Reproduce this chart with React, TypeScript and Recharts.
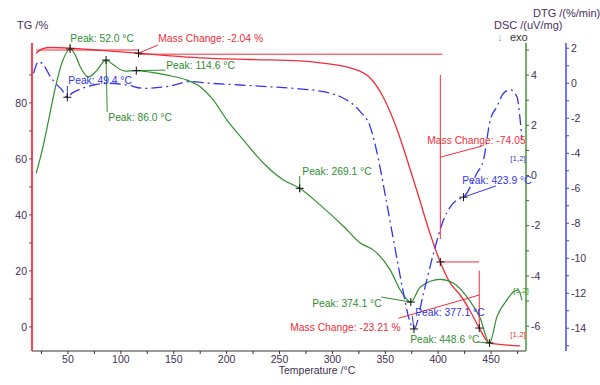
import { ComposedChart, Line, XAxis, YAxis, ReferenceLine, ReferenceDot } from 'recharts'

// TG curve (mass %)
const tgTemp = [19.8, 25.7, 33.3, 52.2, 80.5, 116.4, 146.7, 175.0, 222.3, 269.6, 288.5, 316.8, 335.7, 348.0, 361.2, 370.7, 381.1, 390.5, 401.9, 411.3, 420.8, 430.2, 438.8, 448.2, 458.6, 477.5]
const tgValue = [97.75, 99.3, 99.8, 99.6, 98.75, 97.75, 96.8, 96.1, 95.5, 95.0, 94.3, 92.5, 88.9, 82.1, 70.4, 59.6, 47.1, 35.4, 23.2, 15.7, 11.4, 5.7, -0.4, -5.7, -6.25, -6.8]

// DSC curve (uV/mg)
const dscTemp = [20.0, 25.7, 31.7, 38.0, 44.6, 52.0, 56.9, 61.6, 69.2, 76.7, 86.0, 91.9, 104.2, 114.6, 127.8, 143.6, 162.5, 175.0, 187.3, 200.3, 216.0, 234.9, 253.8, 269.1, 288.5, 312.1, 326.3, 338.9, 354.6, 364.1, 374.1, 383.1, 401.9, 414.5, 427.1, 439.7, 448.6, 455.5, 464.9, 471.2, 475.9, 479.1]
const dscValue = [0.09, 1.02, 2.21, 3.49, 4.52, 5.04, 4.8, 4.33, 3.92, 4.16, 4.6, 4.44, 4.16, 4.18, 4.12, 4.0, 3.8, 3.54, 3.01, 2.21, 1.41, 0.49, -0.18, -0.51, -1.18, -2.09, -2.69, -2.97, -3.76, -4.56, -5.04, -4.44, -4.14, -4.29, -4.83, -5.69, -6.67, -5.63, -4.96, -4.63, -4.56, -4.96]

// DTG curve (%/min)
const dtgTemp = [17.5, 22.2, 27.6, 33.3, 38.9, 44.3, 49.4, 54.1, 60.0, 74.2, 90.0, 105.8, 121.5, 143.6, 165.6, 184.5, 212.9, 238.1, 263.2, 288.5, 297.9, 310.5, 326.3, 335.7, 343.6, 350.8, 359.4, 367.2, 371.9, 377.1, 386.1, 395.6, 405.0, 417.7, 423.9, 436.6, 442.8, 449.2, 455.5, 461.7, 468.1, 474.4, 477.5, 479.1]
const dtgValue = [0.57, 1.23, 0.99, 0.38, -0.04, -0.38, -0.8, -0.55, -0.38, -0.1, 0.0, -0.1, -0.29, -0.19, 0.09, 0.0, -0.1, -0.19, -0.29, -0.45, -0.57, -0.86, -1.62, -2.48, -4.38, -6.67, -9.5, -12.0, -13.34, -14.04, -12.0, -9.71, -7.81, -6.67, -6.51, -5.14, -4.38, -2.1, -1.34, -0.57, -0.38, -0.77, -2.1, -3.24]

const xTicks = [25, 50, 75, 100, 125, 150, 175, 200, 225, 250, 275, 300, 325, 350, 375, 400, 425, 450, 475]
const tgTicks = [0, 10, 20, 30, 40, 50, 60, 70, 80, 90]
const dscTicks = [-6, -5, -4, -3, -2, -1, 0, 1, 2, 3, 4, 5]
const dtgTicks = [-15, -14, -13, -12, -11, -10, -9, -8, -7, -6, -5, -4, -3, -2, -1, 0, 1, 2]

// peak markers
const dscPeakTemp = [52.0, 86.0, 114.6, 269.1, 374.1, 448.6]
const dscPeakValue = [5.04, 4.6, 4.18, -0.51, -5.04, -6.67]
const dtgPeakTemp = [49.4, 377.1, 423.9]
const dtgPeakValue = [-0.8, -14.04, -6.51]
const tgMarkTemp = [116.7, 402, 438.8]
const tgMarkValue = [97.75, 23.2, -0.4]

const tgData = tgTemp.map((t, i) => ({ t, v: tgValue[i] }))
const dscData = dscTemp.map((t, i) => ({ t, v: dscValue[i] }))
const dtgData = dtgTemp.map((t, i) => ({ t, v: dtgValue[i] }))

const RED = '#f02d3a'
const GREEN = '#2f8f2f'
const BLUE = '#3434f0'
const TEXT = '#3f3050'
const FONT = '"Liberation Sans", Arial, sans-serif'

type Note = { text: string; t: number; v: number; axis: string; color: string; size?: number }

const notes: Note[] = [
  { text: 'Peak: 52.0 °C', t: 52.2, v: 5.32, axis: 'dsc', color: GREEN },
  { text: 'Peak: 86.0 °C', t: 88.1, v: 2.17, axis: 'dsc', color: GREEN },
  { text: 'Peak: 114.6 °C', t: 142.9, v: 4.24, axis: 'dsc', color: GREEN },
  { text: 'Peak: 269.1 °C', t: 271.5, v: 0.02, axis: 'dsc', color: GREEN },
  { text: 'Peak: 374.1 °C', t: 280.9, v: -5.24, axis: 'dsc', color: GREEN },
  { text: 'Peak: 448.6 °C', t: 373.5, v: -6.67, axis: 'dsc', color: GREEN },
  { text: '[1,2]', t: 470.9, v: -4.68, axis: 'dsc', color: GREEN, size: 8 },
  { text: 'Peak: 49.4 °C', t: 50.3, v: -0.04, axis: 'dtg', color: BLUE },
  { text: 'Peak: 377.1 °C', t: 378.3, v: -13.3, axis: 'dtg', color: BLUE },
  { text: 'Peak: 423.9 °C', t: 422.7, v: -5.75, axis: 'dtg', color: BLUE },
  { text: '[1,2]', t: 468.1, v: -4.45, axis: 'dtg', color: BLUE, size: 8 },
  { text: 'Mass Change: -2.04 %', t: 135.4, v: 101.8, axis: 'tg', color: RED },
  { text: 'Mass Change: -74.05', t: 389.6, v: 65.4, axis: 'tg', color: RED },
  { text: 'Mass Change: -23.21 %', t: 260.1, v: -1.4, axis: 'tg', color: RED },
  { text: '[1,2]', t: 468.1, v: -3.6, axis: 'tg', color: RED, size: 8 },
]

type Seg = { axis: string; color: string; a: [number, number]; b: [number, number] }

const leaders: Seg[] = [
  { axis: 'dsc', color: GREEN, a: [52.0, 5.04], b: [52.0, 5.26] },
  { axis: 'dsc', color: GREEN, a: [86.0, 4.6], b: [87.1, 2.53] },
  { axis: 'dsc', color: GREEN, a: [114.6, 4.18], b: [142, 4.2] },
  { axis: 'dsc', color: GREEN, a: [269.1, -0.02], b: [269.1, -0.66] },
  { axis: 'dsc', color: GREEN, a: [374.1, -5.04], b: [346.1, -4.84] },
  { axis: 'dsc', color: GREEN, a: [448.6, -6.67], b: [436.9, -6.63] },
  { axis: 'dtg', color: BLUE, a: [49.4, -0.8], b: [49.4, -0.15] },
  { axis: 'dtg', color: BLUE, a: [377.1, -14.04], b: [375.4, -13.3] },
  { axis: 'dtg', color: BLUE, a: [423.9, -6.51], b: [454.5, -5.87] },
  { axis: 'tg', color: RED, a: [116.7, 97.75], b: [135.3, 100.7] },
  { axis: 'tg', color: RED, a: [20, 98.9], b: [116.7, 98.9] },
  { axis: 'tg', color: RED, a: [116.7, 98.9], b: [116.7, 97.4] },
  { axis: 'tg', color: RED, a: [116.7, 97.4], b: [404, 97.4] },
  { axis: 'tg', color: RED, a: [402, 90], b: [402, 31.4] },
  { axis: 'tg', color: RED, a: [402, 60.6], b: [441.3, 64.6] },
  { axis: 'tg', color: RED, a: [402, 23.2], b: [438.8, 23.2] },
  { axis: 'tg', color: RED, a: [438.8, 20.1], b: [438.8, -0.4] },
  { axis: 'tg', color: RED, a: [362.5, 3.1], b: [438.8, 11.4] },
]

const cross = (p: any) => (
  <path d={`M${p.cx - 4},${p.cy}H${p.cx + 4}M${p.cx},${p.cy - 4}V${p.cy + 4}`} stroke="#111" strokeWidth={1} fill="none" />
)

const noteShape = (n: Note) => (p: any) => (
  <text x={p.cx} y={p.cy} fill={n.color} fontSize={n.size ?? 10.3} fontFamily={FONT}>
    {n.text}
  </text>
)

const tickStyle = { fill: TEXT, fontSize: 10.5, fontFamily: FONT }

export default function App() {
  return (
    <div style={{ position: 'absolute', left: 0, top: 0, width: 600, height: 385, background: '#fff' }}>
      <ComposedChart width={600} height={385} margin={{ top: 43, right: 0, left: 0, bottom: 0 }}>
        <XAxis
          type="number"
          dataKey="t"
          domain={[16, 483]}
          allowDataOverflow
          ticks={xTicks}
          tickFormatter={(v) => (v % 50 === 0 ? String(v) : '')}
          tick={tickStyle}
          tickSize={3}
          height={34}
          stroke="#333"
          label={{ value: 'Temperature /°C', position: 'insideBottom', offset: 11, dx: 38, fill: TEXT, fontSize: 10.5, fontFamily: FONT }}
        />
        <YAxis
          yAxisId="tg"
          orientation="left"
          width={32}
          domain={[-8.6, 101.4]}
          allowDataOverflow
          ticks={tgTicks}
          tickFormatter={(v) => (v % 20 === 0 ? String(v) : '')}
          tick={tickStyle}
          tickSize={3}
          axisLine={{ stroke: '#ff4455', strokeWidth: 2 }}
          tickLine={{ stroke: '#555' }}
        />
        <YAxis
          yAxisId="dsc"
          orientation="right"
          width={40}
          domain={[-6.99, 5.28]}
          allowDataOverflow
          ticks={dscTicks}
          tickFormatter={(v) => (v % 2 === 0 ? String(v) : '')}
          tick={tickStyle}
          tickSize={3}
          axisLine={{ stroke: '#6fb565', strokeWidth: 2 }}
          tickLine={{ stroke: '#555' }}
        />
        <YAxis
          yAxisId="dtg"
          orientation="right"
          width={34}
          domain={[-15.3, 2.3]}
          allowDataOverflow
          ticks={dtgTicks}
          tickFormatter={(v) => (v % 2 === 0 ? String(v) : '')}
          tick={tickStyle}
          tickSize={3}
          axisLine={{ stroke: '#7474ff', strokeWidth: 2 }}
          tickLine={{ stroke: '#555' }}
        />
        <Line yAxisId="tg" data={tgData} dataKey="v" type="monotone" stroke={RED} strokeWidth={1.3} dot={false} isAnimationActive={false} />
        <Line yAxisId="dsc" data={dscData} dataKey="v" type="monotone" stroke={GREEN} strokeWidth={1.2} dot={false} isAnimationActive={false} />
        <Line yAxisId="dtg" data={dtgData} dataKey="v" type="monotone" stroke={BLUE} strokeWidth={1.3} strokeDasharray="11 4 2 4" dot={false} isAnimationActive={false} />
        {leaders.map((s, i) => (
          <ReferenceLine
            key={'l' + i}
            yAxisId={s.axis}
            segment={[{ x: s.a[0], y: s.a[1] }, { x: s.b[0], y: s.b[1] }]}
            stroke={s.color}
            strokeWidth={1}
            ifOverflow="visible"
          />
        ))}
        {dscPeakTemp.map((t, i) => (
          <ReferenceDot key={'dp' + i} yAxisId="dsc" x={t} y={dscPeakValue[i]} r={4} shape={cross} ifOverflow="visible" />
        ))}
        {dtgPeakTemp.map((t, i) => (
          <ReferenceDot key={'bp' + i} yAxisId="dtg" x={t} y={dtgPeakValue[i]} r={4} shape={cross} ifOverflow="visible" />
        ))}
        {tgMarkTemp.map((t, i) => (
          <ReferenceDot key={'tp' + i} yAxisId="tg" x={t} y={tgMarkValue[i]} r={4} shape={cross} ifOverflow="visible" />
        ))}
        {notes.map((n, i) => (
          <ReferenceDot key={'n' + i} yAxisId={n.axis} x={n.t} y={n.v} r={1} shape={noteShape(n)} ifOverflow="visible" />
        ))}
      </ComposedChart>
      <svg width={600} height={385} style={{ position: 'absolute', left: 0, top: 0, pointerEvents: 'none' }}>
        <text x={17} y={29} fill="#4a2f5e" fontSize={11} fontFamily={FONT}>TG /%</text>
        <text x={533} y={17} fill="#4a2f5e" fontSize={11} fontFamily={FONT}>DTG /(%/min)</text>
        <text x={494} y={29} fill="#4a2f5e" fontSize={11} fontFamily={FONT}>DSC /(uV/mg)</text>
        <text x={497} y={41} fill="#7f9ec0" fontSize={11} fontFamily={FONT}>↓</text>
        <text x={510} y={41} fill="#333" fontSize={11} fontFamily={FONT}>exo</text>
      </svg>
    </div>
  )
}
